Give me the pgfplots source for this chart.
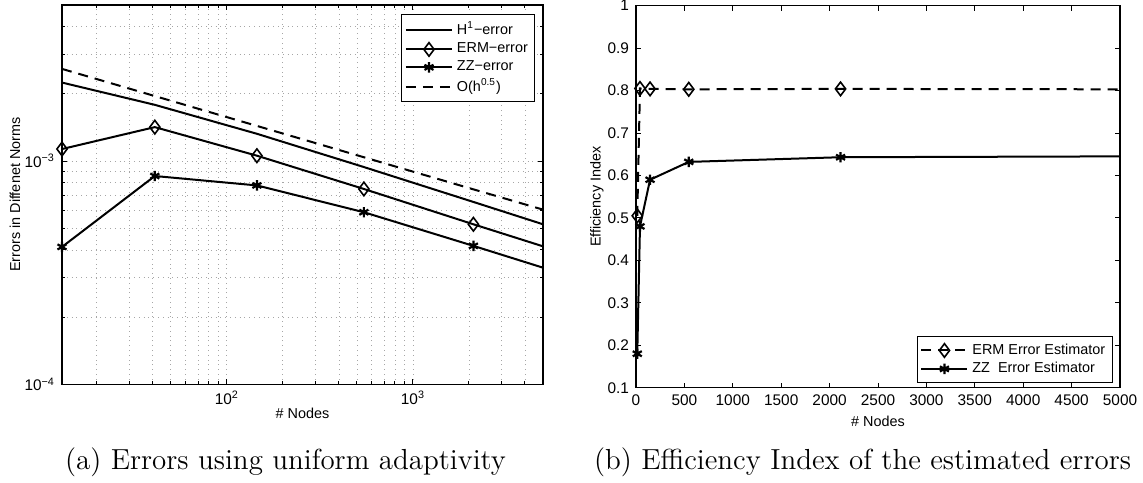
\documentclass[border=0pt]{standalone}
\usepackage{pgfplots}
\pgfplotsset{compat=1.18}
\usepackage{fontspec}
\newfontfamily\hv{Liberation Sans}
\begin{document}
\begin{tikzpicture}
\path[use as bounding box] (0pt,0pt) rectangle (571.5pt,241pt);
\pgfplotsset{
  myaxis/.style={
    scale only axis,
    axis line style={line width=0.6pt},
    tick style={line width=0.5pt, black},
    tick align=inside,
    major tick length=2.5pt,
    minor tick length=1.5pt,
    ticklabel style={font=\fontsize{7.7}{9}\hv},
    label style={font=\fontsize{7.2}{9}\hv},
    legend style={font=\fontsize{7.2}{9}\hv, draw=black, line width=0.5pt, inner sep=1.5pt, row sep=-1.5pt},
    legend cell align=left,
    legend image code/.code={\draw[##1, mark indices={2}] plot coordinates {(0pt,0pt) (11.5pt,0pt) (23pt,0pt)};},
  },
}
% ---------------- left plot ----------------
\begin{axis}[myaxis,
  at={(31pt,48.85pt)}, anchor=south west,
  width=240.5pt, height=189.65pt,
  xmode=log, ymode=log,
  xmin=13, xmax=5000, ymin=1e-4, ymax=5e-3,
  clip=false,
  grid=both,
  major grid style={dotted, gray!70, line width=0.4pt},
  minor grid style={dotted, gray!70, line width=0.4pt},
  xtick={100,1000}, xticklabels={10\textsuperscript{2},10\textsuperscript{3}},
  ytick={1e-4,1e-3}, yticklabels={10\textsuperscript{−4},10\textsuperscript{−3}},
  minor xtick={20,30,40,50,60,70,80,90,200,300,400,500,600,700,800,900,2000,3000,4000},
  minor ytick={2e-4,3e-4,4e-4,5e-4,6e-4,7e-4,8e-4,9e-4,2e-3,3e-3,4e-3},
  xlabel={\# Nodes}, ylabel={Errors in Diffenet Norms},
  xlabel style={at={(axis description cs:0.5,-0.076)}, anchor=center},
  ylabel style={at={(axis description cs:-0.098,0.5)}, anchor=center},
  legend style={at={(rel axis cs:0.984,0.975)}, anchor=north east},
]
\addplot[black, line width=1pt] coordinates {
 (13,2.247e-3) (41,1.786e-3) (145,1.325e-3) (545,0.940e-3) (2113,0.656e-3) (5000,0.521e-3)};
\addlegendentry{H\textsuperscript{1}−error}
\addplot[black, line width=1pt, mark=diamond, mark size=3.4pt, mark options={fill=white, solid, line width=0.8pt}, mark indices={1,2,3,4,5}] coordinates {
 (13,1.132e-3) (41,1.419e-3) (145,1.057e-3) (545,0.750e-3) (2113,0.521e-3) (5000,0.415e-3)};
\addlegendentry{ERM−error}
\addplot[black, line width=1pt, mark=asterisk, mark size=2.6pt, mark options={solid, line width=1.1pt}, mark indices={1,2,3,4,5}] coordinates {
 (13,0.4125e-3) (41,0.857e-3) (145,0.778e-3) (545,0.590e-3) (2113,0.417e-3) (5000,0.333e-3)};
\addlegendentry{ZZ−error}
\addplot[black, line width=1pt, dash pattern=on 5pt off 3.5pt] coordinates {
 (13,2.587e-3) (41,1.955e-3) (145,1.437e-3) (545,1.040e-3) (2113,0.747e-3) (5000,0.606e-3)};
\addlegendentry{O(h\textsuperscript{0.5})}
\end{axis}
% ---------------- right plot ----------------
\begin{axis}[myaxis,
  at={(318pt,47.15pt)}, anchor=south west,
  width=242pt, height=191pt,
  xmin=0, xmax=5000, ymin=0.1, ymax=1,
  clip=false,
  xtick={0,500,...,5000},
  ytick={0.1,0.2,0.3,0.4,0.5,0.6,0.7,0.8,0.9,1},
  yticklabels={0.1,0.2,0.3,0.4,0.5,0.6,0.7,0.8,0.9,1},
  xticklabels={0,500,1000,1500,2000,2500,3000,3500,4000,4500,5000},
  scaled ticks=false,
  xlabel={\# Nodes}, ylabel={Efficiency Index},
  xlabel style={at={(axis description cs:0.5,-0.087)}, anchor=center},
  ylabel style={at={(axis description cs:-0.081,0.5)}, anchor=center},
  legend style={at={(rel axis cs:0.985,0.012)}, anchor=south east},
]
\addplot[black, line width=1pt, dash pattern=on 5pt off 3.5pt, mark=diamond, mark size=3.4pt, mark options={fill=white, solid, line width=0.8pt}, mark indices={1,2,3,4,5}] coordinates {
 (13,0.505) (41,0.805) (145,0.804) (545,0.803) (2113,0.804) (5000,0.803)};
\addlegendentry{ERM Error Estimator}
\addplot[black, line width=1pt, mark=asterisk, mark size=2.6pt, mark options={solid, line width=1.1pt}, mark indices={1,2,3,4,5}] coordinates {
 (13,0.18) (41,0.48) (145,0.59) (545,0.632) (2113,0.643) (5000,0.645)};
\addlegendentry{ZZ\ \ Error Estimator}
\end{axis}
% ---------------- captions ----------------
\node[font=\fontsize{14.5}{16}\selectfont, anchor=center] at (142.75pt,10pt) {(a) Errors using uniform adaptivity};
\node[font=\fontsize{14.5}{16}\selectfont, anchor=center] at (431.25pt,10pt) {(b) Efficiency Index of the estimated errors};
\end{tikzpicture}
\end{document}
